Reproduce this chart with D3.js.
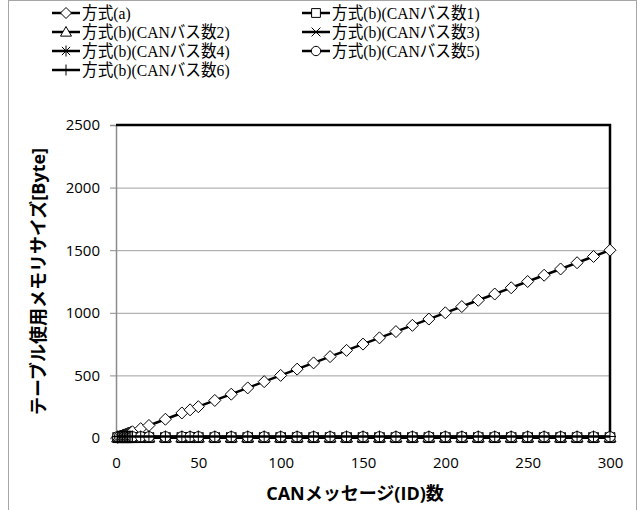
<!DOCTYPE html>
<html>
<head>
<meta charset="utf-8">
<script src="https://cdn.jsdelivr.net/npm/d3@7"></script>
<style>
  body { margin: 0; background: #fff; }
  svg { display: block; }
</style>
</head>
<body>
<div id="chart"></div>
<script>
// message counts on the x axis
var ids = [1, 2, 3, 4, 5, 6, 7, 8, 9, 10, 15, 20, 30, 40, 45, 50, 60, 70, 80, 90, 100,
           110, 120, 130, 140, 150, 160, 170, 180, 190, 200, 210, 220, 230, 240, 250,
           260, 270, 280, 290, 300];

// table size [Byte], method (a)
var methodA = [5, 10, 15, 20, 25, 30, 35, 40, 45, 50, 75, 100, 150, 200, 225, 250, 300, 350, 400, 450, 500,
               550, 600, 650, 700, 750, 800, 850, 900, 950, 1000, 1050, 1100, 1150, 1200, 1250,
               1300, 1350, 1400, 1450, 1500];

// method (b), one value per CAN bus count (constant over ids)
var busCounts = [1, 2, 3, 4, 5, 6];
var methodB = [2, 4, 6, 8, 10, 12];

var seriesNames = ["方式(a)", "方式(b)(CANバス数1)", "方式(b)(CANバス数2)", "方式(b)(CANバス数3)",
                   "方式(b)(CANバス数4)", "方式(b)(CANバス数5)", "方式(b)(CANバス数6)"];
var markerKinds = ["diamond", "square", "triangle", "x", "asterisk", "circle", "plus"];

var xTicks = [0, 50, 100, 150, 200, 250, 300];
var yTicks = [0, 500, 1000, 1500, 2000, 2500];

var w = 642, h = 510;
var margin = {left: 116, top: 125, right: 32, bottom: 72};

var svg = d3.select("#chart").append("svg")
    .attr("width", w)
    .attr("height", h);

// outer frame
svg.append("rect")
    .attr("x", 8.5).attr("y", 0.5)
    .attr("width", 628).attr("height", 520)
    .attr("fill", "none")
    .attr("stroke", "#a6a6a6");

var x = d3.scaleLinear().domain([0, 300]).range([margin.left, w - margin.right]);
var y = d3.scaleLinear().domain([0, 2500]).range([h - margin.bottom, margin.top]);

// build the series table
var series = [];
series.push({name: seriesNames[0], kind: markerKinds[0],
             values: ids.map(function(d, i) { return {x: d, y: methodA[i]}; })});
busCounts.forEach(function(b, j) {
    series.push({name: seriesNames[j + 1], kind: markerKinds[j + 1],
                 values: ids.map(function(d) { return {x: d, y: methodB[j]}; })});
});

// grid lines
svg.append("g")
    .selectAll("line")
    .data(yTicks.slice(1, -1))
    .enter().append("line")
    .attr("x1", x(0)).attr("x2", x(300))
    .attr("y1", function(d) { return y(d) + 0.5; })
    .attr("y2", function(d) { return y(d) + 0.5; })
    .attr("stroke", "#a0a0a0")
    .attr("stroke-width", 1);

// y axis
var yAxis = svg.append("g")
    .attr("transform", "translate(" + x(0) + ",0)")
    .call(d3.axisLeft(y).tickValues(yTicks).tickFormat(d3.format("d")).tickSize(6).tickPadding(10));
yAxis.select(".domain").attr("stroke", "#8c8c8c").attr("stroke-width", 1.5);
yAxis.selectAll(".tick line").attr("stroke", "#8c8c8c");
yAxis.selectAll("text")
    .attr("font-family", "'Open Sans', 'Noto Sans', sans-serif")
    .attr("font-size", "15px")
    .attr("fill", "#000");

// x axis
var xAxis = svg.append("g")
    .attr("transform", "translate(0," + y(0) + ")")
    .call(d3.axisBottom(x).tickValues(xTicks).tickFormat(d3.format("d")).tickSize(0).tickPadding(19));
xAxis.select(".domain").attr("stroke", "#8c8c8c");
xAxis.selectAll("text")
    .attr("font-family", "'Open Sans', 'Noto Sans', sans-serif")
    .attr("font-size", "15px")
    .attr("fill", "#000");

// black frame top and right
svg.append("path")
    .attr("d", "M" + x(0) + "," + y(2500) + "H" + x(300) + "V" + y(0))
    .attr("fill", "none")
    .attr("stroke", "#000")
    .attr("stroke-width", 2.5);

// axis titles
svg.append("text")
    .attr("x", (x(0) + x(300)) / 2 - 8)
    .attr("y", 500)
    .attr("text-anchor", "middle")
    .attr("font-family", "'Open Sans', 'Noto Sans CJK JP', sans-serif")
    .attr("font-weight", "bold")
    .attr("font-size", "18px")
    .text("CANメッセージ(ID)数");

svg.append("text")
    .attr("transform", "translate(45," + (y(1250)) + ") rotate(-90)")
    .attr("text-anchor", "middle")
    .attr("font-family", "'Open Sans', 'Noto Sans CJK JP', sans-serif")
    .attr("font-weight", "bold")
    .attr("font-size", "18px")
    .text("テーブル使用メモリサイズ[Byte]");

// marker path by kind
function markerPath(kind, r) {
    if (kind == "diamond") return "M0," + (-r) + "L" + r + ",0L0," + r + "L" + (-r) + ",0Z";
    if (kind == "square") { var s = r * 0.8; return "M" + (-s) + "," + (-s) + "H" + s + "V" + s + "H" + (-s) + "Z"; }
    if (kind == "triangle") return "M0," + (-r) + "L" + r + "," + (r * 0.75) + "H" + (-r) + "Z";
    if (kind == "x") { var a = r * 0.8; return "M" + (-a) + "," + (-a) + "L" + a + "," + a + "M" + a + "," + (-a) + "L" + (-a) + "," + a; }
    if (kind == "asterisk") { var c = r * 0.75; return "M0," + (-r) + "V" + r + "M" + (-c) + "," + (-c) + "L" + c + "," + c + "M" + c + "," + (-c) + "L" + (-c) + "," + c; }
    if (kind == "circle") return d3.arc()({innerRadius: 0, outerRadius: r * 0.85, startAngle: 0, endAngle: 2 * Math.PI});
    if (kind == "plus") return "M0," + (-r) + "V" + r + "M" + (-r) + ",0H" + r;
}

var line = d3.line()
    .x(function(d) { return x(d.x); })
    .y(function(d) { return y(d.y); });

var groups = svg.append("g")
    .selectAll("g")
    .data(series)
    .enter().append("g");

groups.append("path")
    .attr("d", function(d) { return line(d.values); })
    .attr("fill", "none")
    .attr("stroke", "#000")
    .attr("stroke-width", 2.5);

groups.each(function(s) {
    d3.select(this).selectAll(".mk")
        .data(s.values)
        .enter().append("path")
        .attr("class", "mk")
        .attr("transform", function(d) { return "translate(" + x(d.x) + "," + y(d.y) + ")"; })
        .attr("d", markerPath(s.kind, 6))
        .attr("fill", "#fff")
        .attr("stroke", "#000")
        .attr("stroke-width", 1);
});

// legend: (a) then pairs, two columns
var legend = svg.append("g")
    .selectAll("g")
    .data(series)
    .enter().append("g")
    .attr("transform", function(d, i) {
        var col = i % 2 == 1 ? 1 : 0;
        var row = Math.floor(i / 2);
        return "translate(" + (col == 0 ? 52 : 302) + "," + (13 + row * 19) + ")";
    });

legend.append("line")
    .attr("x1", 0).attr("x2", 28)
    .attr("stroke", "#000")
    .attr("stroke-width", 2.5);

legend.append("path")
    .attr("transform", "translate(14,0)")
    .attr("d", function(d) { return markerPath(d.kind, 5.5); })
    .attr("fill", "#fff")
    .attr("stroke", "#000")
    .attr("stroke-width", 1);

legend.append("text")
    .attr("transform", "translate(30,0) scale(0.92,1)")
    .attr("dy", "0.36em")
    .attr("font-family", "'Liberation Serif', 'Noto Sans CJK JP', serif")
    .attr("font-size", "17px")
    .text(function(d) { return d.name; });
</script>
</body>
</html>
